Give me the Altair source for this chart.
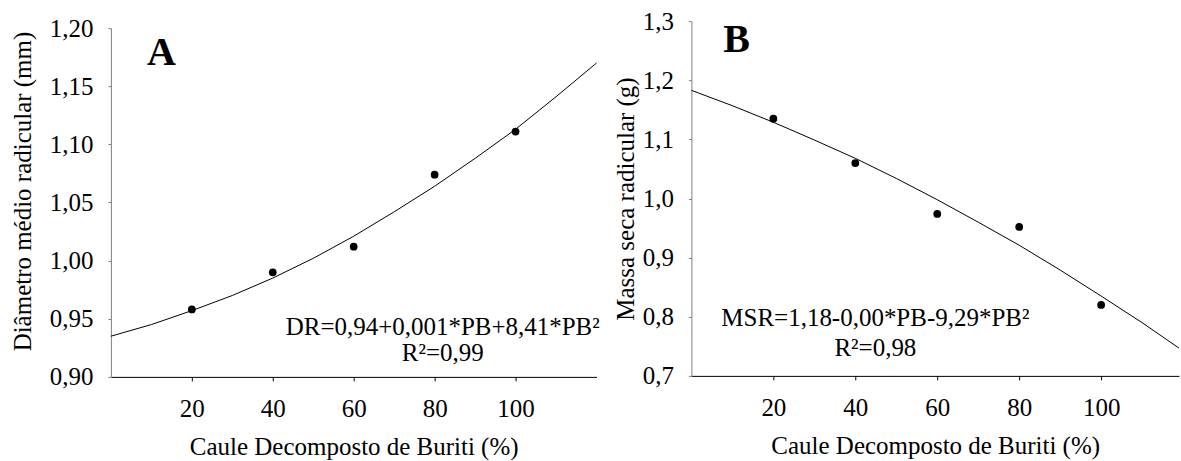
import altair as alt
import pandas as pd

# ---- data ----
pb_levels = [20, 40, 60, 80, 100]
dr_obs = [0.958, 0.990, 1.012, 1.074, 1.111]
msr_obs = [1.135, 1.060, 0.974, 0.952, 0.820]

curve_a_x = [0, 10, 20, 30, 40, 50, 60, 70, 80, 90, 100, 110, 120]
curve_a_y = [0.935, 0.945, 0.957, 0.970, 0.985, 1.002, 1.021, 1.042, 1.064, 1.088, 1.113, 1.141, 1.170]
curve_b_x = [0, 10, 20, 30, 40, 50, 60, 70, 80, 90, 100, 110, 119]
curve_b_y = [1.183, 1.157, 1.129, 1.099, 1.068, 1.034, 0.998, 0.960, 0.921, 0.879, 0.835, 0.790, 0.747]

x_ticks = [20, 40, 60, 80, 100]
a_y_ticks = [0.90, 0.95, 1.00, 1.05, 1.10, 1.15, 1.20]
b_y_ticks = [0.7, 0.8, 0.9, 1.0, 1.1, 1.2, 1.3]

ann_a_text = ["DR=0,94+0,001*PB+8,41*PB²", "R²=0,99"]
ann_a_x = [82, 82]
ann_a_y = [0.943, 0.9206]
ann_b_text = ["MSR=1,18-0,00*PB-9,29*PB²", "R²=0,98"]
ann_b_x = [44.9, 44.9]
ann_b_y = [0.798, 0.7475]

FONT = "Liberation Serif"
FS = 25

def make_panel(cx, cy, py, ann_t, ann_x, ann_y, letter, lx, ly,
               xdom, ydom, yrange, yticks, yfmt, ytitle, width, height,
               ytitle_pad, title_y=None):
    curve = pd.DataFrame({"x": cx, "y": cy})
    pts = pd.DataFrame({"x": pb_levels, "y": py})
    ann = pd.DataFrame({"x": ann_x, "y": ann_y, "t": ann_t})
    let = pd.DataFrame({"x": [lx], "y": [ly], "t": [letter]})

    xaxis = alt.Axis(values=x_ticks, title="Caule Decomposto de Buriti (%)",
                     domainColor="black", tickColor="black", tickSize=4,
                     labelPadding=16, titlePadding=13, grid=False,
                     labelFont=FONT, titleFont=FONT, labelFontSize=FS, titleFontSize=FS,
                     titleFontWeight="normal", labelColor="black", titleColor="black")
    yargs = dict(values=yticks, title=ytitle,
                 labelExpr="replace(format(datum.value, '%s'), '.', ',')" % yfmt,
                 domainColor="#808080", tickColor="#808080", tickSize=3,
                 labelPadding=15, titlePadding=ytitle_pad, grid=False,
                 labelFont=FONT, titleFont=FONT, labelFontSize=FS, titleFontSize=FS,
                 titleFontWeight="normal", labelColor="black", titleColor="black")
    if title_y is not None:
        yargs["titleY"] = title_y
    yaxis = alt.Axis(**yargs)
    X = alt.X("x:Q", scale=alt.Scale(domain=xdom, nice=False, zero=False), axis=xaxis)
    Y = alt.Y("y:Q", scale=alt.Scale(domain=ydom, range=yrange, nice=False, zero=False), axis=yaxis)

    line = alt.Chart(curve).mark_line(color="black", strokeWidth=1).encode(x=X, y=Y)
    dots = alt.Chart(pts).mark_circle(color="black", size=60, opacity=1).encode(x=X, y=Y)
    txt = alt.Chart(ann).mark_text(font=FONT, fontSize=FS, color="black",
                                   align="center", baseline="middle").encode(x=X, y=Y, text="t:N")
    lab = alt.Chart(let).mark_text(font=FONT, fontSize=40, fontWeight="bold", color="black",
                                   align="center", baseline="middle").encode(x=X, y=Y, text="t:N")
    return alt.layer(line, dots, txt, lab).properties(width=width, height=height)

panel_a = make_panel(curve_a_x, curve_a_y, dr_obs, ann_a_text, ann_a_x, ann_a_y,
                     "A", 12.5, 1.1785, [0, 120], [0.90, 1.20], [356, 7], a_y_ticks, ".2f",
                     "Diâmetro médio radicular (mm)", 486, 356, 14, title_y=170)
panel_b = make_panel(curve_b_x, curve_b_y, msr_obs, ann_b_text, ann_b_x, ann_b_y,
                     "B", 11.0, 1.2678, [0, 119], [0.7, 1.3], [355, 0], b_y_ticks, ".1f",
                     "Massa seca radicular (g)", 488, 355, 4)

chart = alt.hconcat(panel_a, panel_b, spacing=95, bounds="flush").properties(
    padding={"left": 10, "top": 9, "right": 0, "bottom": 0}
).configure_view(stroke=None)

chart.save("out.html", embed_options={"renderer": "svg", "actions": False})
